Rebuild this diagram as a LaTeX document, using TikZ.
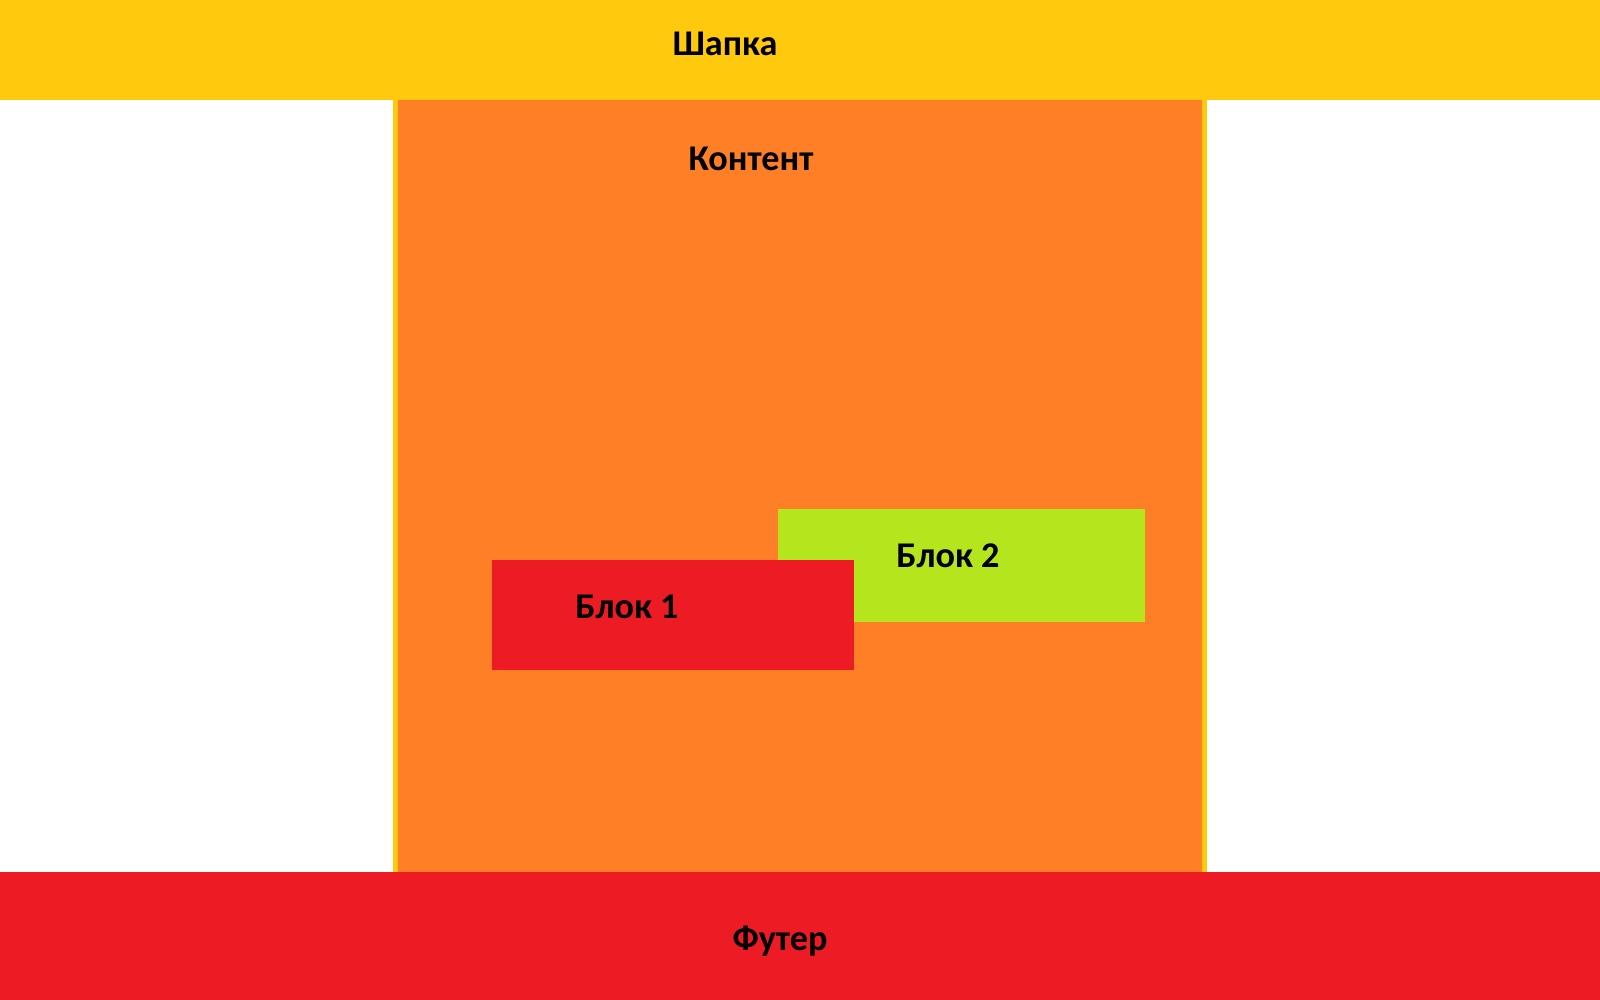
\documentclass[tikz,border=0pt]{standalone}
\usepackage{fontspec}
\setmainfont{Carlito}
\definecolor{shapka}{HTML}{FFC90E}
\definecolor{kontent}{HTML}{FF7F27}
\definecolor{krasny}{HTML}{ED1C24}
\definecolor{salat}{HTML}{B5E61D}
\tikzset{
    zone/.style = {inner sep=0pt, outer sep=0pt, anchor=south west},
    lbl/.style = {font=\fontsize{10.3}{12}\selectfont\bfseries, anchor=base, inner sep=0pt}
}
\begin{document}
\begin{tikzpicture}
        \useasboundingbox (0, 0) rectangle (16, 10);
        % content column with yellow sides
        \node[zone, fill=shapka, minimum width=8.14cm, minimum height=7.72cm] (contentedge) at (3.93, 1.28) {};
        \node[zone, fill=kontent, minimum width=8.04cm, minimum height=7.72cm] (content) at (3.98, 1.28) {};
        % header and footer
        \node[zone, fill=shapka, minimum width=16cm, minimum height=1cm] (header) at (0, 9) {};
        \node[zone, fill=krasny, minimum width=16cm, minimum height=1.28cm] (footer) at (0, 0) {};
        % blocks
        \node[zone, fill=salat, minimum width=3.67cm, minimum height=1.13cm] (block2) at (7.78, 3.78) {};
        \node[zone, fill=krasny, minimum width=3.62cm, minimum height=1.10cm] (block1) at (4.92, 3.30) {};
        % labels
        \node[lbl] (headertxt) at (7.25, 9.44) {Шапка};
        \node[lbl] (contenttxt) at (7.51, 8.29) {Контент};
        \node[lbl] (block2txt) at (9.48, 4.32) {Блок 2};
        \node[lbl] (block1txt) at (6.27, 3.81) {Блок 1};
        \node[lbl] (footertxt) at (7.80, 0.49) {Футер};
    \end{tikzpicture}
\end{document}
